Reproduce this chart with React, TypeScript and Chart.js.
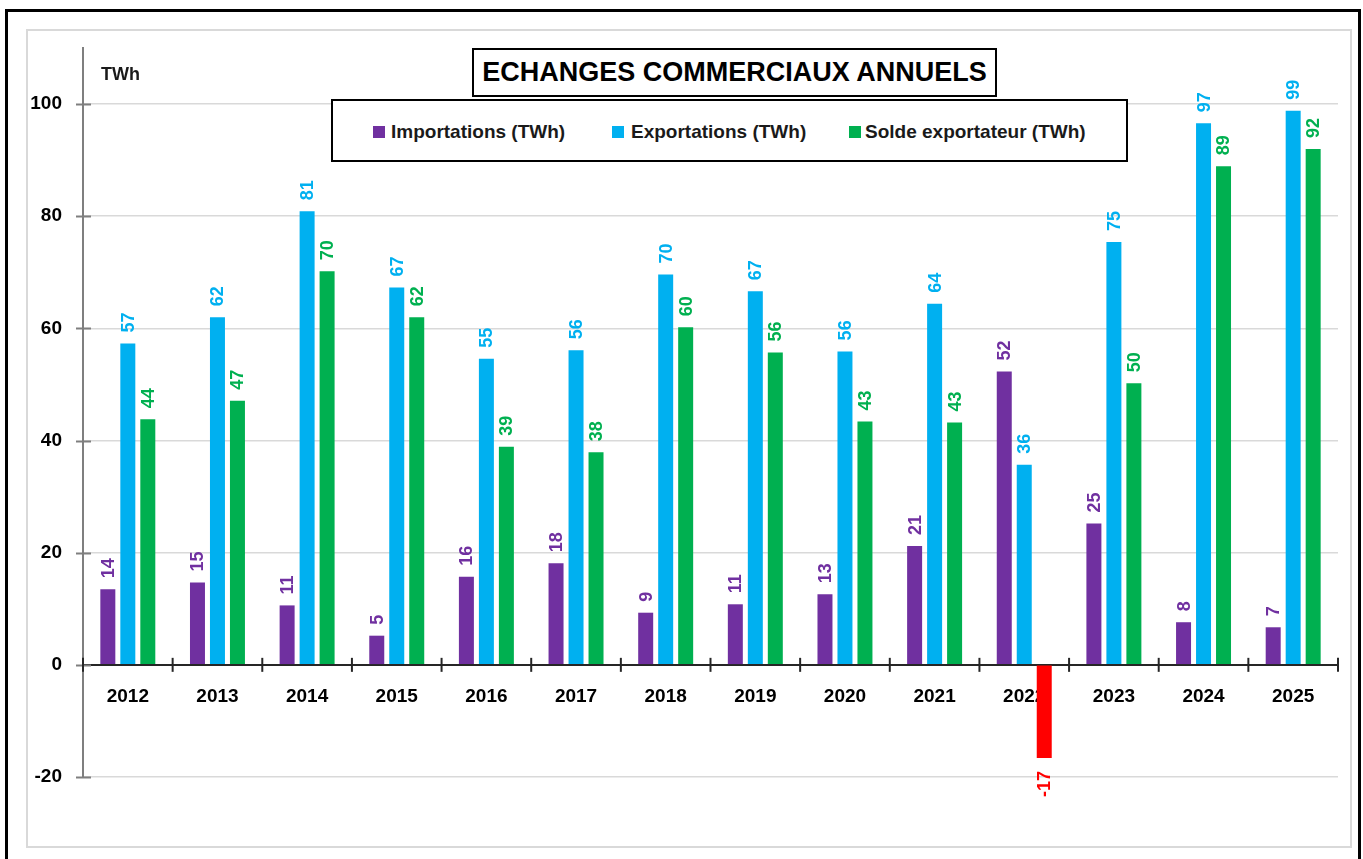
import { useEffect, useRef } from 'react';
import { Chart, registerables } from 'chart.js';

Chart.register(...registerables);

const years = ['2012', '2013', '2014', '2015', '2016', '2017', '2018', '2019', '2020', '2021', '2022', '2023', '2024', '2025'];
const importations = [13.5, 14.7, 10.6, 5.2, 15.7, 18.1, 9.3, 10.8, 12.6, 21.2, 52.3, 25.2, 7.6, 6.7];
const exportations = [57.3, 62.0, 80.9, 67.3, 54.6, 56.1, 69.6, 66.6, 55.9, 64.4, 35.7, 75.4, 96.6, 98.8];
const solde = [43.8, 47.1, 70.2, 62.0, 38.9, 37.9, 60.2, 55.7, 43.4, 43.2, -16.6, 50.2, 88.9, 92.0];
const seriesNames = ['Importations (TWh)', 'Exportations (TWh)', 'Solde exportateur (TWh)'];
const yMin = -20;
const yMax = 110;
const yStep = 20;

const PURPLE = '#7030A0';
const BLUE = '#00B0F0';
const GREEN = '#00B050';
const RED = '#FF0000';
const FONT = '"Liberation Sans", Arial, sans-serif';

export default function App() {
  const ref = useRef<HTMLCanvasElement>(null);

  useEffect(() => {
    const canvas = ref.current;
    if (!canvas) return;

    const decorPlugin = {
      id: 'decor',
      afterDatasetsDraw(chart: any) {
        const ctx = chart.ctx;
        const xs = chart.scales.x;
        const ys = chart.scales.y;
        const zeroY = ys.getPixelForValue(0);
        ctx.save();
        // y tick marks crossing axis
        ctx.strokeStyle = '#7f7f7f';
        ctx.lineWidth = 2;
        ys.ticks.forEach((t: any) => {
          const py = Math.round(ys.getPixelForValue(t.value)) + 0.5;
          ctx.beginPath();
          ctx.moveTo(xs.left - 7, py);
          ctx.lineTo(xs.left + 8, py);
          ctx.stroke();
        });
        // x tick marks at category boundaries
        ctx.strokeStyle = '#262626';
        const n = years.length;
        for (let i = 0; i <= n; i++) {
          const px = xs.left + (i * (xs.right - xs.left)) / n;
          ctx.beginPath();
          ctx.moveTo(px, zeroY - 7);
          ctx.lineTo(px, zeroY + 7);
          ctx.stroke();
        }
        // data labels
        ctx.font = `bold 18px ${FONT}`;
        ctx.textBaseline = 'middle';
        const colors = [PURPLE, BLUE, GREEN];
        chart.data.datasets.forEach((ds: any, di: number) => {
          const meta = chart.getDatasetMeta(di);
          meta.data.forEach((el: any, j: number) => {
            const v = ds.data[j] as number;
            const txt = String(Math.round(v));
            ctx.save();
            ctx.fillStyle = v < 0 ? RED : colors[di];
            if (v >= 0) {
              ctx.translate(el.x + 1, el.y - 11);
              ctx.rotate(-Math.PI / 2);
              ctx.textAlign = 'left';
            } else {
              ctx.translate(el.x + 1, el.y + 13);
              ctx.rotate(-Math.PI / 2);
              ctx.textAlign = 'right';
            }
            ctx.fillText(txt, 0, 0);
            ctx.restore();
          });
        });
        // unit label
        ctx.fillStyle = '#1a1a1a';
        ctx.font = `bold 18px ${FONT}`;
        ctx.textAlign = 'left';
        ctx.textBaseline = 'middle';
        ctx.fillText('TWh', 101, 75);
        ctx.restore();
      },
    };

    const chart = new Chart(canvas, {
      type: 'bar',
      data: {
        labels: years,
        datasets: [
          { label: seriesNames[0], data: importations, backgroundColor: PURPLE },
          { label: seriesNames[1], data: exportations, backgroundColor: BLUE },
          {
            label: seriesNames[2],
            data: solde,
            backgroundColor: (c: any) => ((c.raw as number) < 0 ? RED : GREEN),
          },
        ],
      },
      options: {
        responsive: false,
        animation: false,
        layout: { padding: { left: 0, top: 48, right: 25, bottom: 82 } },
        datasets: { bar: { categoryPercentage: 0.669, barPercentage: 0.75 } },
        plugins: {
          legend: { display: false },
          title: { display: false },
          tooltip: { enabled: false },
        },
        scales: {
          x: {
            position: { y: 0 } as any,
            grid: { drawOnChartArea: false, drawTicks: false },
            border: { display: true, color: '#262626', width: 2 },
            ticks: {
              color: '#000',
              font: { family: FONT, size: 19, weight: 'bold' },
              padding: 21,
              maxRotation: 0,
              autoSkip: false,
            },
          },
          y: {
            min: yMin,
            max: yMax,
            afterBuildTicks: (s: any) => {
              s.ticks = s.ticks.filter((t: any) => t.value % yStep === 0);
            },
            afterFit: (s: any) => {
              s.width = 83;
            },
            ticks: {
              stepSize: yStep,
              color: '#000',
              font: { family: FONT, size: 19, weight: 'bold' },
              padding: 21,
            },
            grid: {
              color: (c: any) => (c.tick && c.tick.value === 0 ? 'rgba(0,0,0,0)' : '#d9d9d9'),
              lineWidth: 1.5,
              drawTicks: false,
            },
            border: { display: true, color: '#7f7f7f', width: 2 },
          },
        },
      },
      plugins: [decorPlugin],
    });
    return () => chart.destroy();
  }, []);

  const legendItems = [
    { color: PURPLE, sq: 373, tx: 391 },
    { color: BLUE, sq: 612, tx: 631 },
    { color: GREEN, sq: 849, tx: 865 },
  ];

  return (
    <div style={{ position: 'fixed', left: 0, top: 0, width: 1363, height: 859, overflow: 'hidden', background: '#fff' }}>
      <div style={{ position: 'absolute', left: 5, top: 9, width: 1356, height: 900, border: '3px solid #000', boxSizing: 'border-box' }} />
      <div style={{ position: 'absolute', left: 26, top: 29, width: 1326, height: 819, border: '2px solid #d9d9d9', boxSizing: 'border-box' }} />
      <canvas ref={ref} width={1363} height={859} style={{ position: 'absolute', left: 0, top: 0, display: 'block' }} />
      <div
        style={{
          position: 'absolute', left: 472, top: 48, width: 525, height: 49, border: '2px solid #000', boxSizing: 'border-box',
          background: '#fff', display: 'flex', alignItems: 'center', justifyContent: 'center',
          fontFamily: FONT, fontWeight: 'bold', fontSize: 27, lineHeight: 1, color: '#000', whiteSpace: 'nowrap',
        }}
      >
        ECHANGES COMMERCIAUX ANNUELS
      </div>
      <div style={{ position: 'absolute', left: 331, top: 99, width: 797, height: 63, border: '2px solid #000', boxSizing: 'border-box', background: '#fff' }} />
      {legendItems.map((it, i) => (
        <div key={i}>
          <div style={{ position: 'absolute', left: it.sq, top: 126, width: 12, height: 12, background: it.color }} />
          <div
            style={{
              position: 'absolute', left: it.tx, top: 121, height: 21, display: 'flex', alignItems: 'center',
              fontFamily: FONT, fontWeight: 'bold', fontSize: 19, lineHeight: 1, color: '#1a1a1a', whiteSpace: 'nowrap',
            }}
          >
            {seriesNames[i]}
          </div>
        </div>
      ))}
    </div>
  );
}
